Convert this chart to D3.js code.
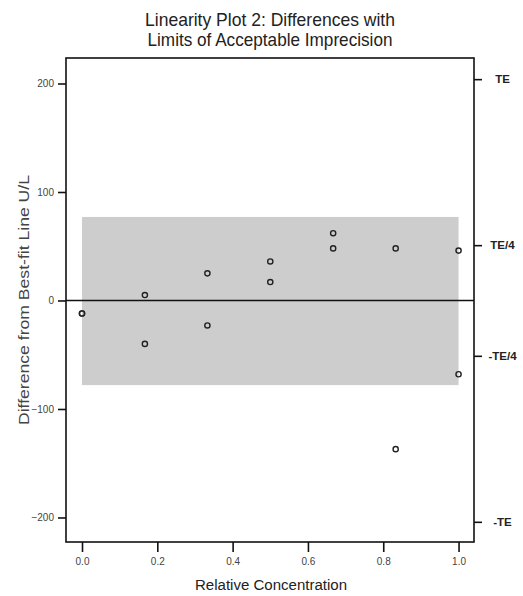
<!DOCTYPE html>
<html>
<head>
<meta charset="utf-8">
<script src="https://cdn.jsdelivr.net/npm/d3@7"></script>
<style>
  body { margin: 0; background: #fff; }
  text { font-family: "Liberation Sans", Arial, sans-serif; }
</style>
</head>
<body>
<script>
"use strict";
(function(){

    const concentration = [0, 0, 0.167, 0.167, 0.333, 0.333, 0.5, 0.5, 0.667, 0.667, 0.833, 0.833, 1.0, 1.0]
    const difference = [-12, -12, 5, -40, 25, -23, 36, 17, 62, 48, 48, -137, 46, -68]

    const xTicks = [0, 0.2, 0.4, 0.6, 0.8, 1.0]
    const yTicks = [-200, -100, 0, 100, 200]

    const TE = 204
    const limitLabels = ["TE", "TE/4", "-TE/4", "-TE"]
    const limitValues = [TE, TE / 4, -TE / 4, -TE]

    const band = [-78, 77]   // limits of acceptable imprecision
    const bandX = [0, 1]

    const measurements = {
        width: 523,
        height: 596,
        left: 66,
        right: 474,
        top: 58,
        bottom: 542
    }

    const svg = d3.select("body").append("svg")
        .attr("width", measurements.width)
        .attr("height", measurements.height)

    const scaleX = d3.scaleLinear()
        .domain([-0.0425, 1.041])
        .range([measurements.left, measurements.right])

    const scaleY = d3.scaleLinear()
        .domain([-222.6, 223.5])
        .range([measurements.bottom, measurements.top])

    // grey band
    svg.append("rect")
        .attr("x", scaleX(bandX[0]))
        .attr("y", scaleY(band[1]))
        .attr("width", scaleX(bandX[1]) - scaleX(bandX[0]))
        .attr("height", scaleY(band[0]) - scaleY(band[1]))
        .attr("fill", "#cdcdcd")

    // zero line
    svg.append("line")
        .attr("x1", measurements.left)
        .attr("x2", measurements.right)
        .attr("y1", scaleY(0))
        .attr("y2", scaleY(0))
        .attr("stroke", "#111")
        .attr("stroke-width", 1.6)

    // axes
    const xAxis = d3.axisBottom(scaleX)
        .tickValues(xTicks)
        .tickFormat(d3.format(".1f"))
        .tickSize(10)
        .tickPadding(6)

    const yAxis = d3.axisLeft(scaleY)
        .tickValues(yTicks)
        .tickSize(8)
        .tickPadding(4)

    const rAxis = d3.axisRight(scaleY)
        .tickValues(limitValues)
        .tickFormat((d, i) => limitLabels[i])
        .tickSize(8)
        .tickPadding(4)

    const gx = svg.append("g")
        .attr("transform", "translate(0," + measurements.bottom + ")")
        .call(xAxis)
    const gy = svg.append("g")
        .attr("transform", "translate(" + measurements.left + ",0)")
        .call(yAxis)
    const gr = svg.append("g")
        .attr("transform", "translate(" + measurements.right + ",0)")
        .call(rAxis)

    svg.selectAll(".domain").remove()
    svg.selectAll(".tick line").attr("stroke", "#111").attr("stroke-width", 1.6)

    gx.selectAll("text")
        .attr("font-size", 10)
        .attr("fill", "#444")
        .attr("font-family", "Liberation Sans, sans-serif")
    gy.selectAll("text")
        .attr("font-size", 10)
        .attr("fill", "#444")
        .attr("font-family", "Liberation Sans, sans-serif")
    gr.selectAll("text")
        .attr("font-size", 11.5)
        .attr("font-weight", "bold")
        .attr("fill", "#222")
        .attr("text-anchor", "middle")
        .attr("x", 28.5)
        .attr("font-family", "Liberation Sans, sans-serif")

    // frame
    svg.append("rect")
        .attr("x", measurements.left)
        .attr("y", measurements.top)
        .attr("width", measurements.right - measurements.left)
        .attr("height", measurements.bottom - measurements.top)
        .attr("fill", "none")
        .attr("stroke", "#111")
        .attr("stroke-width", 1.6)

    // points
    svg.selectAll(".pt")
        .data(concentration)
        .enter()
        .append("circle")
            .attr("class", "pt")
            .attr("cx", d => scaleX(d))
            .attr("cy", (d, i) => scaleY(difference[i]))
            .attr("r", 2.6)
            .attr("fill", "none")
            .attr("stroke", "#222")
            .attr("stroke-width", 1.4)

    // title (narrow face in the original, so squeeze to width)
    const title = ["Linearity Plot 2: Differences with", "Limits of Acceptable Imprecision"]
    const titleWidth = [250, 245]
    svg.selectAll(".title")
        .data(title)
        .enter()
        .append("text")
            .attr("x", 270)
            .attr("y", (d, i) => 26 + i * 19.5)
            .attr("text-anchor", "middle")
            .attr("font-size", 18.5)
            .attr("textLength", (d, i) => titleWidth[i])
            .attr("lengthAdjust", "spacingAndGlyphs")
            .attr("fill", "#222")
            .text(d => d)

    svg.append("text")
        .attr("text-anchor", "middle")
        .attr("transform", "translate(29,300)rotate(-90)")
        .attr("font-size", 15.5)
        .attr("textLength", 250)
        .attr("lengthAdjust", "spacingAndGlyphs")
        .attr("fill", "#444")
        .text("Difference from Best-fit Line U/L")

    svg.append("text")
        .attr("text-anchor", "middle")
        .attr("x", 271)
        .attr("y", 590)
        .attr("font-size", 15.5)
        .attr("textLength", 152)
        .attr("lengthAdjust", "spacingAndGlyphs")
        .attr("fill", "#222")
        .text("Relative Concentration")
})()
</script>
</body>
</html>
